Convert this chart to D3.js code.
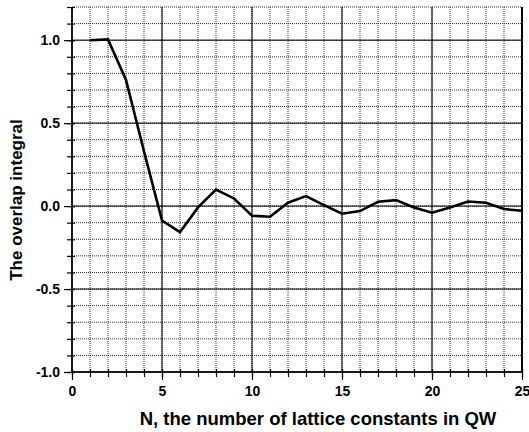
<!DOCTYPE html>
<html>
<head>
<meta charset="utf-8">
<script src="https://cdn.jsdelivr.net/npm/d3@7"></script>
<style>
    body { margin: 0; background: #fff; }
    text { font-family: "Liberation Sans", Arial, sans-serif; }
</style>
</head>
<body>
<svg id="chart"></svg>
<script>
// overlap integral vs N (number of lattice constants in QW)
var nValues = [1, 2, 3, 4, 5, 6, 7, 8, 9, 10, 11, 12, 13, 14, 15, 16, 17, 18, 19, 20, 21, 22, 23, 24, 25];
var overlap = [1.0, 1.005, 0.76, 0.33, -0.087, -0.157, -0.008, 0.10, 0.046, -0.058, -0.064, 0.02, 0.06, 0.006,
    -0.046, -0.03, 0.026, 0.036, -0.008, -0.04, -0.008, 0.028, 0.02, -0.018, -0.028];

var xMajorTicks = [0, 5, 10, 15, 20, 25];
var yMajorTicks = [-1.0, -0.5, 0.0, 0.5, 1.0];
var xTitle = "N, the number of lattice constants in QW";
var yTitle = "The overlap integral";

var margin = { top: 7, right: 7, bottom: 60, left: 72 },
    width = 529 - margin.left - margin.right,
    height = 432 - margin.top - margin.bottom;

var x = d3.scaleLinear().domain([0, 25]).range([0, width]);
var y = d3.scaleLinear().domain([-1, 1.2]).range([height, 0]);

var svg = d3.select("#chart")
    .attr("width", width + margin.left + margin.right)
    .attr("height", height + margin.top + margin.bottom);

var g = svg.append("g")
    .attr("transform", "translate(" + margin.left + "," + margin.top + ")");

var xMinor = d3.range(0, 26, 1);
var yMinor = d3.range(-10, 13, 1).map(function (d) { return d / 10; });

// dotted minor grid
g.append("g").selectAll("line")
    .data(xMinor)
    .enter().append("line")
    .attr("x1", function (d) { return x(d); })
    .attr("x2", function (d) { return x(d); })
    .attr("y1", 0)
    .attr("y2", height)
    .attr("stroke", "#333")
    .attr("stroke-dasharray", "1,1");

g.append("g").selectAll("line")
    .data(yMinor)
    .enter().append("line")
    .attr("x1", 0)
    .attr("x2", width)
    .attr("y1", function (d) { return y(d); })
    .attr("y2", function (d) { return y(d); })
    .attr("stroke", "#333")
    .attr("stroke-dasharray", "1,1");

// solid major grid
g.append("g").selectAll("line")
    .data(xMajorTicks)
    .enter().append("line")
    .attr("x1", function (d) { return x(d); })
    .attr("x2", function (d) { return x(d); })
    .attr("y1", 0)
    .attr("y2", height)
    .attr("stroke", "#000")
    .attr("stroke-width", 1);

g.append("g").selectAll("line")
    .data(yMajorTicks)
    .enter().append("line")
    .attr("x1", 0)
    .attr("x2", width)
    .attr("y1", function (d) { return y(d); })
    .attr("y2", function (d) { return y(d); })
    .attr("stroke", "#000")
    .attr("stroke-width", 1);

// right border
g.append("line")
    .attr("x1", width).attr("x2", width)
    .attr("y1", 0).attr("y2", height)
    .attr("stroke", "#000")
    .attr("stroke-width", 2);

// axes: minor ticks
var xAxisMinor = d3.axisBottom(x).tickValues(xMinor).tickSize(5).tickFormat("");
var yAxisMinor = d3.axisLeft(y).tickValues(yMinor).tickSize(5).tickFormat("");

g.append("g")
    .attr("transform", "translate(0," + height + ")")
    .call(xAxisMinor)
    .call(function (s) { s.select(".domain").remove(); })
    .selectAll(".tick line").attr("y1", -3).attr("stroke-width", 1.2);

g.append("g")
    .call(yAxisMinor)
    .call(function (s) { s.select(".domain").remove(); })
    .selectAll(".tick line").attr("x1", 3).attr("stroke-width", 1.2);

// axes: major ticks and labels
var xAxis = d3.axisBottom(x).tickValues(xMajorTicks).tickSize(8).tickPadding(6);
var yAxis = d3.axisLeft(y).tickValues(yMajorTicks).tickSize(8).tickPadding(4)
    .tickFormat(function (d) { return d.toFixed(1); });

var xg = g.append("g")
    .attr("transform", "translate(0," + height + ")")
    .call(xAxis);
xg.select(".domain").attr("d", "M0,0H" + width).attr("stroke-width", 1.5);
xg.selectAll(".tick line").attr("y1", -3).attr("stroke-width", 1.2);
xg.selectAll("text")
    .attr("fill", "#000")
    .style("font-size", "14px")
    .style("font-weight", "bold");

var yg = g.append("g").call(yAxis);
yg.select(".domain").attr("d", "M0,0V" + height).attr("stroke-width", 1.5);
yg.selectAll(".tick line").attr("x1", 3).attr("stroke-width", 1.2);
yg.selectAll("text")
    .attr("fill", "#000")
    .style("font-size", "14px")
    .style("font-weight", "bold");

// data line
var line = d3.line()
    .x(function (d, i) { return x(nValues[i]); })
    .y(function (d) { return y(d); });

g.append("path")
    .datum(overlap)
    .attr("d", line)
    .attr("fill", "none")
    .attr("stroke", "#000")
    .attr("stroke-width", 2.6)
    .attr("stroke-linejoin", "miter");

// axis titles
svg.append("text")
    .attr("x", 318)
    .attr("y", 425)
    .attr("text-anchor", "middle")
    .style("font-size", "18.5px")
    .style("font-weight", "bold")
    .text(xTitle);

svg.append("text")
    .attr("transform", "translate(22,200) rotate(-90)")
    .attr("text-anchor", "middle")
    .style("font-size", "17px")
    .style("font-weight", "bold")
    .text(yTitle);
</script>
</body>
</html>
